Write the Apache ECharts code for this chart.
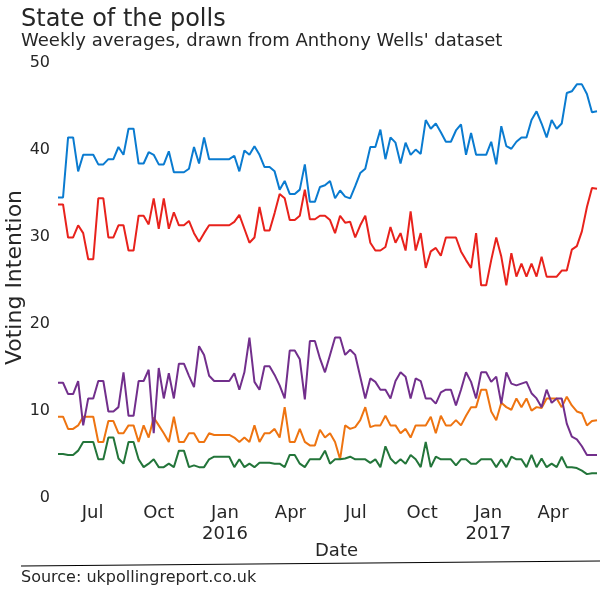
<!DOCTYPE html>
<html>
<head>
<meta charset="utf-8">
<script src="https://cdn.jsdelivr.net/npm/echarts@6/dist/echarts.min.js"></script>
<style>
html,body{margin:0;padding:0;background:#fff;}
#chart{width:610px;height:591px;}
</style>
</head>
<body>
<div id="chart"></div>
<script>
// Weekly dates: first week and number of weeks
const firstWeek = [2015, 4, 14];
const weekCount = 108;

const seriesNames = ['Conservative', 'Labour', 'Liberal Democrat', 'UKIP', 'Green'];

const con = [34.2,34.2,41.1,41.1,37.2,39.1,39.1,39.1,38.0,38.0,38.6,38.6,40.0,39.1,42.1,42.1,38.1,38.1,39.4,39.1,38.0,38.0,39.5,37.1,37.1,37.1,37.5,40.0,38.1,41.1,38.6,38.6,38.6,38.6,38.6,39.0,37.2,
  39.6,39.1,40.1,39.1,37.7,37.7,37.2,35.1,36.1,34.6,34.6,35.1,38.0,33.7,33.7,35.4,35.6,36.1,34.1,35.0,34.3,34.1,35.5,37.0,37.5,40.0,40.0,42.0,38.6,41.1,40.5,38.1,40.5,39.1,39.7,39.2,
  43.1,42.1,42.7,41.7,40.6,40.6,41.9,42.6,39.1,41.6,39.1,39.1,39.1,40.6,38.0,42.4,40.1,39.8,40.6,41.1,41.1,43.1,44.1,42.7,41.1,43.1,42.1,42.7,46.2,46.4,47.2,47.2,46.1,44.0,44.1];

const lab = [33.4,33.4,29.6,29.6,31.0,30.1,27.1,27.1,34.1,34.1,29.6,29.6,31.0,31.0,28.1,28.1,32.1,32.1,31.1,34.1,30.6,34.1,30.6,32.5,31.0,31.0,31.5,30.1,29.1,30.1,31.0,31.0,31.0,31.0,31.0,31.4,32.2,
  30.6,29.0,29.6,33.1,30.4,30.4,32.4,34.6,34.1,31.6,31.6,32.1,35.1,31.7,31.7,32.1,32.1,31.6,30.1,32.1,31.3,31.4,29.6,31.0,32.1,29.0,28.1,28.1,28.5,30.8,29.0,30.1,28.1,32.6,28.1,30.1,
  26.1,28.0,28.4,27.5,29.6,29.6,29.6,28.0,27.0,26.1,30.1,24.1,24.1,27.0,29.6,27.4,24.1,27.8,25.1,26.6,25.1,26.6,25.1,27.4,25.1,25.1,25.1,25.8,25.8,28.2,28.6,30.3,33.1,35.3,35.2];

const ld = [9.0,9.0,7.6,7.6,8.0,9.0,9.0,9.0,6.1,6.1,8.5,8.5,7.1,7.1,8.0,8.0,6.1,8.0,6.6,8.9,8.0,7.1,6.1,9.0,6.1,6.1,7.1,7.1,6.1,6.1,7.1,6.9,6.9,6.9,6.9,6.6,6.1,
  6.6,6.1,8.0,6.1,7.1,7.1,7.6,6.6,10.1,6.1,6.1,7.6,6.1,5.7,5.7,7.5,6.6,7.1,6.1,4.1,8.0,7.6,7.8,8.6,10.1,7.8,8.0,8.0,9.1,8.0,8.0,7.1,7.6,6.6,8.0,8.0,
  8.0,9.0,7.1,9.1,8.0,8.0,8.6,8.0,9.1,10.1,10.1,12.1,12.1,9.6,8.6,10.6,10.1,9.8,11.1,10.1,11.1,9.7,10.1,10.0,11.1,11.1,11.1,10.1,11.3,10.3,9.6,9.4,8.0,8.5,8.6];

const ukip = [12.9,12.9,11.6,11.6,13.1,8.0,11.1,11.1,13.1,13.1,9.6,9.6,10.1,14.1,9.1,9.1,13.1,13.1,14.4,7.1,14.6,11.1,14.0,11.1,15.1,15.1,13.7,12.4,17.1,16.1,13.7,13.1,13.1,13.1,13.1,14.0,12.1,
  14.1,18.1,13.0,12.1,14.8,14.8,13.8,12.6,11.1,16.6,16.6,15.6,11.0,17.7,17.7,15.7,14.1,16.1,18.1,18.1,16.1,16.7,16.1,13.6,11.1,13.4,13.0,12.1,12.1,11.1,13.1,14.1,13.6,11.1,13.4,13.1,
  11.1,11.1,10.5,11.8,12.1,12.1,10.3,12.1,14.1,13.0,11.1,14.1,14.1,13.0,13.6,10.5,14.1,12.8,12.6,12.8,13.0,11.7,11.1,10.1,12.1,10.6,11.1,11.1,8.2,6.7,6.4,5.6,4.6,4.6,4.6];

const green = [4.7,4.7,4.6,4.6,5.1,6.1,6.1,6.1,4.1,4.1,6.6,6.6,4.2,3.6,6.1,6.1,4.1,3.2,3.6,4.1,3.2,3.2,3.6,3.2,5.1,5.1,3.2,3.4,3.2,3.2,4.1,4.4,4.4,4.4,4.4,3.2,4.1,
  3.2,3.6,3.2,3.7,3.7,3.7,3.6,3.6,3.2,4.6,4.6,3.6,3.2,4.1,4.1,4.1,5.1,3.6,4.1,4.1,4.2,4.4,4.1,4.1,4.1,3.7,4.1,3.2,5.6,4.2,3.6,4.1,3.6,4.6,4.1,3.2,
  6.1,3.2,4.4,4.1,4.1,4.1,3.4,4.1,4.1,3.6,3.6,4.1,4.1,4.1,3.2,4.1,3.2,4.4,4.1,4.1,3.2,4.6,3.2,4.2,3.2,3.6,3.2,4.4,3.2,3.2,3.1,2.8,2.4,2.5,2.5];

const seriesColors = ['#0a7bd0', '#e8221c', '#ee7411', '#722f8c', '#23753a'];

// X tick labels (quarter starts)
const tickDates = [[2015,6,1],[2015,9,1],[2016,0,1],[2016,3,1],[2016,6,1],[2016,9,1],[2017,0,1],[2017,3,1]];
const tickLabels = ['Jul','Oct','Jan\n2016','Apr','Jul','Oct','Jan\n2017','Apr'];

const yTicks = [0, 10, 20, 30, 40, 50];

const titleText = 'State of the polls';
const subtitleText = "Weekly averages, drawn from Anthony Wells' dataset";
const sourceText = 'Source: ukpollingreport.co.uk';

// x is measured in days since the first weekly average
const DAY = 86400000;
const t0 = Date.UTC(firstWeek[0], firstWeek[1], firstWeek[2]);
const xDays = [];
for (let i = 0; i < weekCount; i++) {
  xDays.push(Math.round((Date.UTC(firstWeek[0], firstWeek[1], firstWeek[2] + 7 * i) - t0) / DAY));
}
const tickDays = tickDates.map(d => Math.round((Date.UTC(d[0], d[1], d[2]) - t0) / DAY));

const allSeries = [con, lab, ld, ukip, green];
const FONT = 'DejaVu Sans';
const TXT = '#262626';

const chart = echarts.init(document.getElementById('chart'), null, {renderer: 'canvas'});
chart.setOption({
  animation: false,
  backgroundColor: '#ffffff',
  textStyle: {fontFamily: FONT, color: TXT},
  title: {
    text: titleText,
    subtext: subtitleText,
    left: 16,
    top: 3,
    itemGap: 0,
    textStyle: {fontFamily: FONT, fontSize: 24, fontWeight: 'normal', color: TXT},
    subtextStyle: {fontFamily: FONT, fontSize: 18, color: TXT}
  },
  grid: {left: 58, right: 13, top: 60, bottom: 96, containLabel: false, outerBoundsMode: 'none'},
  xAxis: {
    type: 'value',
    min: 0,
    max: xDays[xDays.length - 1],
    interval: 7,
    name: 'Date',
    nameLocation: 'middle',
    nameGap: 47,
    nameMoveOverlap: false,
    nameTextStyle: {fontFamily: FONT, fontSize: 18, color: TXT, padding: [0, 0, 0, 18]},
    axisLine: {show: false},
    axisTick: {show: false},
    splitLine: {show: false},
    axisLabel: {
      customValues: tickDays,
      fontFamily: FONT,
      fontSize: 18,
      color: TXT,
      margin: 8,
      lineHeight: 21,
      hideOverlap: false,
      showMinLabel: true,
      showMaxLabel: true,
      formatter: function (v) {
        const k = tickDays.indexOf(Math.round(v));
        return k >= 0 ? tickLabels[k] : '';
      }
    }
  },
  yAxis: {
    type: 'value',
    min: yTicks[0],
    max: yTicks[yTicks.length - 1],
    interval: 10,
    name: 'Voting Intention',
    nameLocation: 'middle',
    nameGap: 32,
    nameMoveOverlap: false,
    nameTextStyle: {fontFamily: FONT, fontSize: 22, color: TXT},
    axisLine: {show: false},
    axisTick: {show: false},
    splitLine: {show: false},
    axisLabel: {
      margin: 8,
      formatter: v => '{v|' + v + '}',
      rich: {v: {fontFamily: FONT, fontSize: 16, color: TXT, padding: [6, 0, 0, 0]}}
    }
  },
  series: allSeries.map((vals, k) => ({
    name: seriesNames[k],
    type: 'line',
    showSymbol: false,
    symbol: 'none',
    data: vals.map((v, i) => [xDays[i], v]),
    lineStyle: {width: 2, color: seriesColors[k]},
    itemStyle: {color: seriesColors[k]},
    z: 2 + k
  })),
  graphic: [
    {
      type: 'line',
      shape: {x1: 21, y1: 566, x2: 600, y2: 561},
      style: {stroke: '#000', lineWidth: 1.2}
    },
    {
      type: 'text',
      left: 21,
      top: 570,
      style: {text: sourceText, font: '16px "DejaVu Sans"', fill: TXT}
    }
  ]
});
</script>
</body>
</html>
